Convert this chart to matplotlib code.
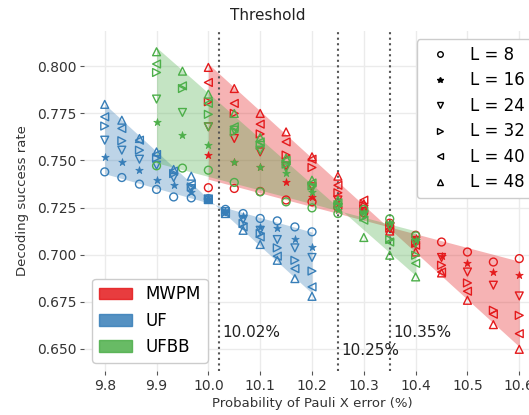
import numpy as np
import matplotlib
matplotlib.use('Agg')
import matplotlib.pyplot as plt
from matplotlib.patches import Patch
from matplotlib.lines import Line2D

# sizes of the lattice, one marker per size
sizes = [8, 16, 24, 32, 40, 48]
markers = ['o', '*', 'v', '>', '<', '^']

# UF
x_uf = [9.8, 9.833, 9.867, 9.9, 9.933, 9.967, 10.0, 10.033, 10.067, 10.1, 10.133, 10.167, 10.2]
uf_8 = [0.7439, 0.7409, 0.7374, 0.7346, 0.7306, 0.7301, 0.7297, 0.7240, 0.7218, 0.7192, 0.7179, 0.7147, 0.7121]
uf_16 = [0.7519, 0.7492, 0.7448, 0.7395, 0.7368, 0.7333, 0.7296, 0.7233, 0.7204, 0.7147, 0.7139, 0.7085, 0.7041]
uf_24 = [0.7607, 0.7554, 0.7506, 0.7474, 0.7409, 0.7350, 0.7295, 0.7228, 0.7186, 0.7129, 0.7080, 0.7036, 0.6985]
uf_32 = [0.7682, 0.7604, 0.7554, 0.7513, 0.7430, 0.7359, 0.7294, 0.7224, 0.7165, 0.7112, 0.7036, 0.6970, 0.6913]
uf_40 = [0.7731, 0.7669, 0.7607, 0.7531, 0.7443, 0.7372, 0.7293, 0.7221, 0.7147, 0.7094, 0.6992, 0.6926, 0.6829]
uf_48 = [0.7797, 0.7713, 0.7616, 0.7545, 0.7452, 0.7416, 0.7292, 0.7218, 0.7129, 0.7054, 0.6970, 0.6873, 0.6779]

# UFBB
x_ufbb = [9.9, 9.95, 10.0, 10.05, 10.1, 10.15, 10.2, 10.25, 10.3, 10.35, 10.4]
ufbb_8 = [0.7471, 0.7459, 0.7448, 0.7383, 0.7333, 0.7280, 0.7248, 0.7218, 0.7240, 0.7190, 0.7100]
ufbb_16 = [0.7704, 0.7637, 0.7584, 0.7492, 0.7466, 0.7432, 0.7333, 0.7236, 0.7225, 0.7170, 0.7080]
ufbb_24 = [0.7825, 0.7754, 0.7678, 0.7660, 0.7554, 0.7460, 0.7350, 0.7250, 0.7210, 0.7150, 0.7060]
ufbb_32 = [0.7966, 0.7881, 0.7744, 0.7651, 0.7580, 0.7480, 0.7365, 0.7265, 0.7200, 0.7080, 0.6997]
ufbb_40 = [0.8011, 0.7895, 0.7802, 0.7678, 0.7598, 0.7500, 0.7380, 0.7275, 0.7183, 0.7067, 0.6954]
ufbb_48 = [0.8076, 0.7973, 0.7851, 0.7749, 0.7621, 0.7512, 0.7395, 0.7289, 0.7091, 0.6997, 0.6882]

# MWPM
x_mwpm = [10.0, 10.05, 10.1, 10.15, 10.2, 10.25, 10.3, 10.35, 10.4, 10.45, 10.5, 10.55, 10.6]
mwpm_8 = [0.7355, 0.7351, 0.7335, 0.7290, 0.7280, 0.7250, 0.7222, 0.7167, 0.7103, 0.7067, 0.7014, 0.6961, 0.6979]
mwpm_16 = [0.7531, 0.7492, 0.7466, 0.7386, 0.7306, 0.7270, 0.7230, 0.7160, 0.7090, 0.6992, 0.6956, 0.6908, 0.6894]
mwpm_24 = [0.7678, 0.7616, 0.7545, 0.7470, 0.7360, 0.7290, 0.7240, 0.7150, 0.7075, 0.6985, 0.6908, 0.6838, 0.6781]
mwpm_32 = [0.7811, 0.7749, 0.7640, 0.7528, 0.7462, 0.7328, 0.7260, 0.7140, 0.7060, 0.6944, 0.6850, 0.6705, 0.6678]
mwpm_40 = [0.7913, 0.7802, 0.7692, 0.7598, 0.7506, 0.7368, 0.7289, 0.7135, 0.7050, 0.6908, 0.6806, 0.6684, 0.6581]
mwpm_48 = [0.7993, 0.7881, 0.7749, 0.7651, 0.7519, 0.7416, 0.7270, 0.7125, 0.7014, 0.6903, 0.6758, 0.6629, 0.6498]

thresholds = [10.02, 10.25, 10.35]
threshold_labels = ['10.02%', '10.25%', '10.35%']
label_y = [0.6588, 0.6493, 0.6588]

decoders = ['MWPM', 'UF', 'UFBB']
colors = ['#e41a1c', '#377eb8', '#4daf4a']
xs = [x_mwpm, x_uf, x_ufbb]
ys = [[mwpm_8, mwpm_16, mwpm_24, mwpm_32, mwpm_40, mwpm_48],
      [uf_8, uf_16, uf_24, uf_32, uf_40, uf_48],
      [ufbb_8, ufbb_16, ufbb_24, ufbb_32, ufbb_40, ufbb_48]]

fig = plt.figure(figsize=(5.29, 4.15), dpi=100)
ax = fig.add_axes([84/529, 1-371/415, 456/529, 340/415])

for x, series, c in zip(xs, ys, colors):
    x = np.array(x)
    # band between the fits of the smallest and largest lattice
    fit_lo = np.polyval(np.polyfit(x, series[0], 1), x)
    fit_hi = np.polyval(np.polyfit(x, series[-1], 1), x)
    ax.fill_between(x, fit_lo, fit_hi, color=c, alpha=0.33, lw=0, zorder=1)
    for y, m in zip(series, markers):
        if m == '*':
            ax.scatter(x, y, marker=m, s=32, color=c, lw=0.5, zorder=3)
        else:
            ax.scatter(x, y, marker=m, s=32, facecolors='none', edgecolors=c, lw=1, zorder=3)

for t, lab, ly in zip(thresholds, threshold_labels, label_y):
    ax.axvline(t, color='#555555', ls=':', lw=1.5, zorder=2)
    ax.text(t + 0.007, ly, lab, fontsize=11, color='#222222', ha='left', va='center')

ax.set_xlim(9.76, 10.64)
ax.set_ylim(0.6383, 0.8186)
ax.set_xticks(np.arange(9.8, 10.61, 0.1))
ax.set_yticks([0.650, 0.675, 0.700, 0.725, 0.750, 0.775, 0.800])
ax.grid(color='#ebebeb', lw=1)
ax.set_axisbelow(True)
for s in ax.spines.values():
    s.set_visible(False)
ax.tick_params(length=3, pad=2.5, color='#555555', labelsize=10, labelcolor='#333333')
ax.set_xlabel('Probability of Pauli X error (%)', fontsize=9.5, color='#333333', labelpad=3)
ax.set_ylabel('Decoding success rate', fontsize=9.5, color='#333333', labelpad=6)
fig.text(268/529, 1-16/415, 'Threshold', ha='center', va='center', fontsize=11, color='#222222')

size_handles = [Line2D([], [], ls='none', marker=m, color='black', markersize=4,
                       markerfacecolor='black' if m == '*' else 'none', markeredgewidth=1)
                for m in markers]
leg1 = ax.legend(size_handles, ['L = %d' % L for L in sizes], loc='upper right', fontsize=12,
                 frameon=True, edgecolor='#cccccc', framealpha=1, labelspacing=0.45)
ax.add_artist(leg1)
dec_handles = [Patch(color=c, alpha=0.85) for c in colors]
ax.legend(dec_handles, decoders, loc='lower left', fontsize=12, frameon=True,
          edgecolor='#cccccc', framealpha=1, handlelength=2.0, handleheight=0.7)

plt.savefig('out.png', dpi=100)
